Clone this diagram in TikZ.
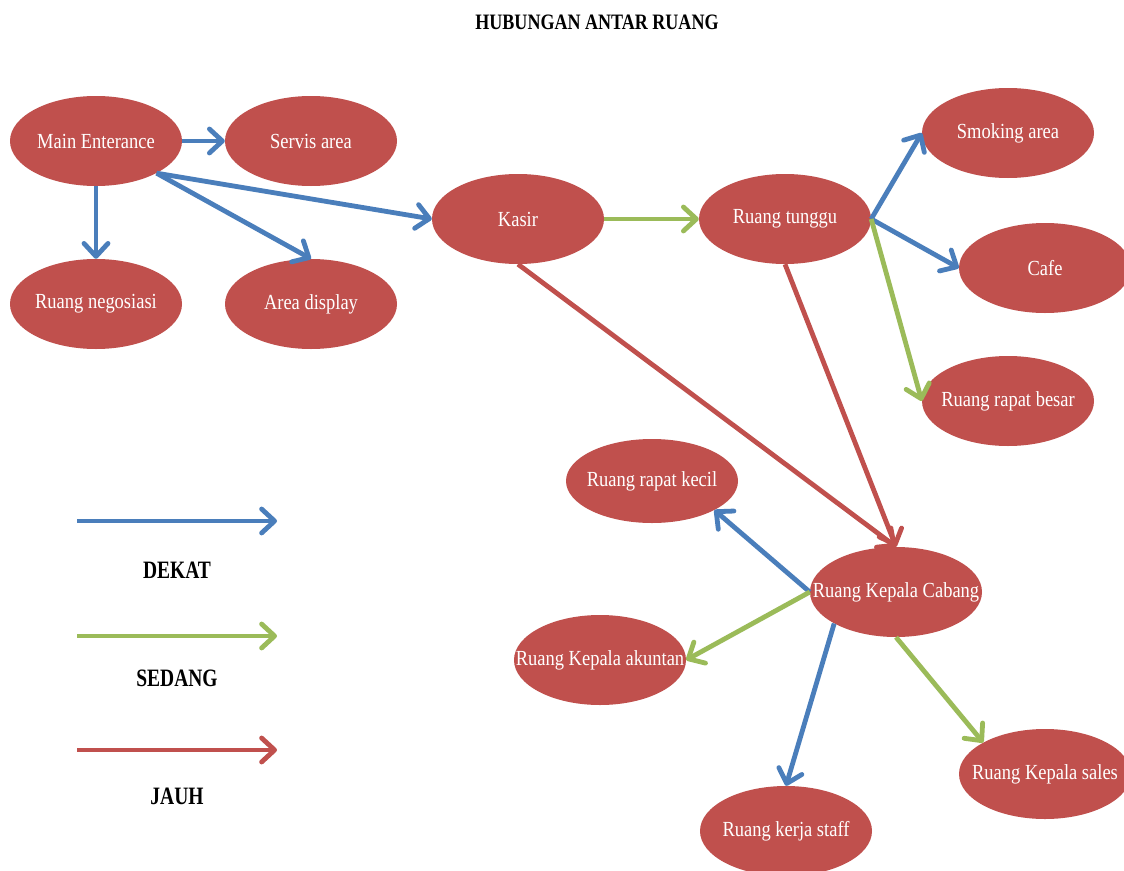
\documentclass[tikz,border=0pt]{standalone}
\usepackage{fontspec}
\setmainfont{Liberation Serif}
\newfontfamily\nodefont[FakeStretch=0.86]{Liberation Serif}
\newfontfamily\headfont[FakeStretch=0.82]{Liberation Serif}
\newfontfamily\legfont[FakeStretch=0.78]{Liberation Serif}
\usetikzlibrary{shapes.geometric,arrows.meta}
\definecolor{rm}{HTML}{C0504D}
\definecolor{bl}{HTML}{4A7EBB}
\definecolor{gr}{HTML}{9BBB59}
\begin{document}
\begin{tikzpicture}[x=1pt,y=-1pt,
  ell/.style={ellipse, fill=rm, draw=none, minimum width=172pt, minimum height=90pt,
    inner sep=0pt, text=white, font=\nodefont\fontsize{21.5}{24}\selectfont},
  conn/.style={line width=4.8pt, -{Straight Barb[length=13pt,width=24pt,round]}},
  dekat/.style={conn, draw=bl},
  sedang/.style={conn, draw=gr},
  jauh/.style={conn, draw=rm},
  head/.style={font=\headfont\bfseries\fontsize{22}{26}\selectfont},
  leg/.style={font=\legfont\bfseries\fontsize{25}{28}\selectfont}]
\useasboundingbox (0,0) rectangle (1124,870);
\fill[white] (0,0) rectangle (1124,870);

\node[head] (title) at (597,22) {HUBUNGAN ANTAR RUANG};

\node[ell] (me) at (96,141) {\makebox[0pt]{Main Enterance}};
\node[ell] (sv) at (311,141) {\makebox[0pt]{Servis area}};
\node[ell] (ng) at (96,304) {\makebox[0pt]{Ruang negosiasi}};
\node[ell] (ad) at (311,304) {\makebox[0pt]{Area display}};
\node[ell] (ka) at (518,219) {\makebox[0pt]{Kasir}};
\node[ell] (rt) at (785,219) {\makebox[0pt]{Ruang tunggu}};
\node[ell] (sm) at (1008,133) {\makebox[0pt]{Smoking area}};
\node[ell] (cf) at (1045,268) {\makebox[0pt]{Cafe}};
\node[ell] (rb) at (1008,401) {\makebox[0pt]{Ruang rapat besar}};
\node[ell, minimum height=84pt] (rk) at (652,481) {\makebox[0pt]{Ruang rapat kecil}};
\node[ell] (kc) at (896,592) {\makebox[0pt]{Ruang Kepala Cabang}};
\node[ell] (ak) at (600,660) {\makebox[0pt]{Ruang Kepala akuntan}};
\node[ell] (ks) at (786,831) {\makebox[0pt]{Ruang kerja staff}};
\node[ell] (sl) at (1045,774) {\makebox[0pt]{Ruang Kepala sales}};

% DEKAT
\draw[dekat] (me.east) -- (sv.west);
\draw[dekat] (me.south) -- (ng.north);
\draw[dekat] (me.-28) -- (ad.north);
\draw[dekat] (me.-28) -- (ka.west);
\draw[dekat] (rt.east) -- (sm.west);
\draw[dekat] (rt.east) -- (cf.west);
\draw[dekat] (kc.west) -- (rk.-25);
\draw[dekat] (kc.-153) -- (ks.north);
% SEDANG
\draw[sedang] (ka.east) -- (rt.west);
\draw[sedang] (rt.east) -- (rb.west);
\draw[sedang] (kc.west) -- (ak.east);
\draw[sedang] (kc.south) -- (sl.153);
% JAUH
\draw[jauh] (ka.south) -- (kc.north);
\draw[jauh] (rt.south) -- (kc.north);

% Legend
\coordinate (d1) at (77,521); \coordinate (d2) at (277,521);
\coordinate (s1) at (77,636); \coordinate (s2) at (277,636);
\coordinate (j1) at (77,750); \coordinate (j2) at (277,750);
\draw[dekat] (d1) -- (d2);
\draw[sedang] (s1) -- (s2);
\draw[jauh] (j1) -- (j2);
\node[leg] (ldekat) at (177,570) {DEKAT};
\node[leg] (lsedang) at (177,678) {SEDANG};
\node[leg] (ljauh) at (177,796) {JAUH};
\end{tikzpicture}
\end{document}
